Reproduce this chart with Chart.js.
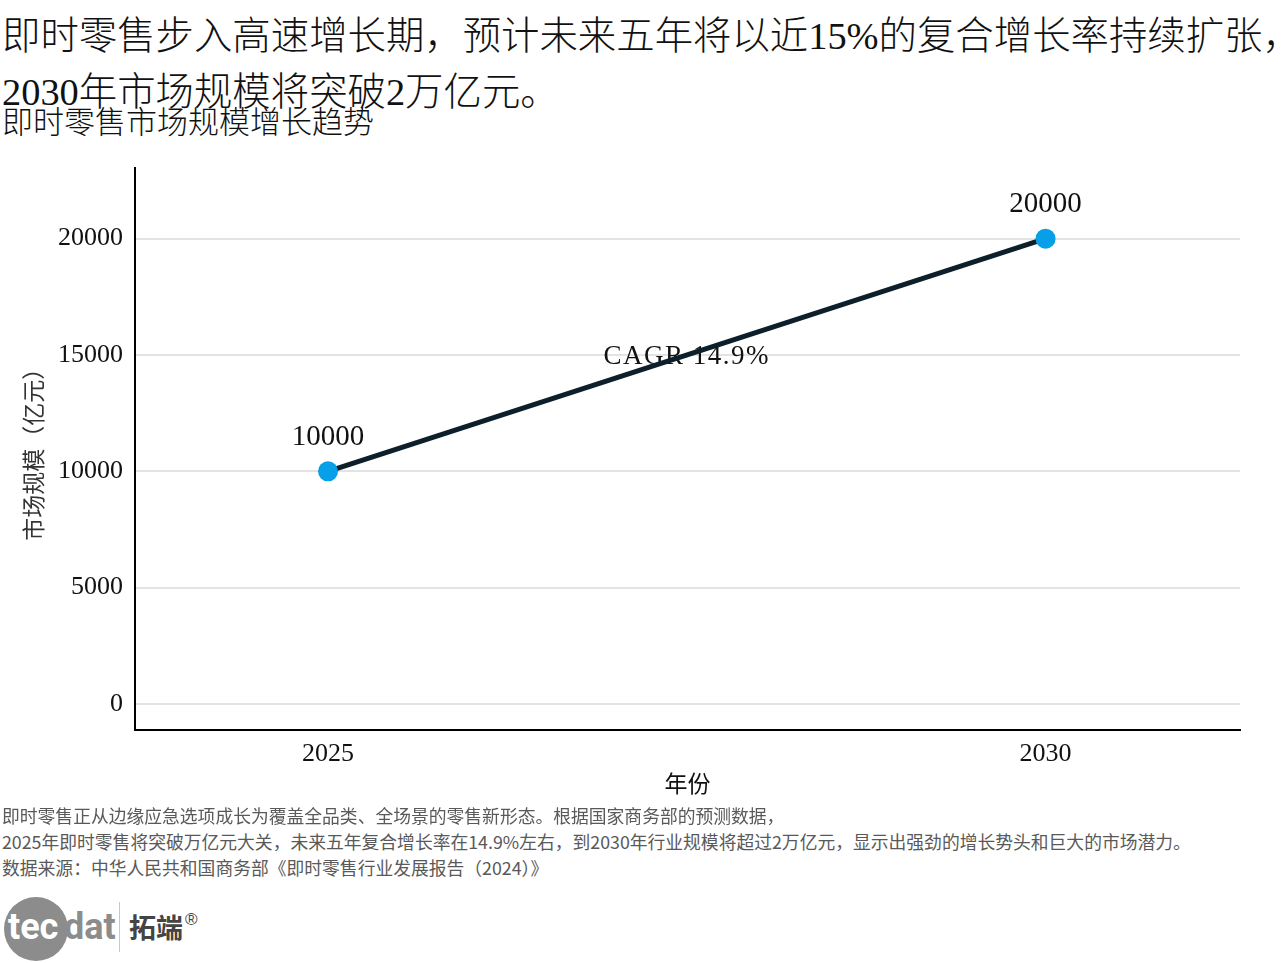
<!DOCTYPE html>
<html>
<head>
<meta charset="utf-8">
<script src="https://cdn.jsdelivr.net/npm/chart.js@4"></script>
<style>
  body { margin:0; width:1284px; height:963px; background:#fff; position:relative; overflow:hidden;
         font-family:'Liberation Serif','Noto Sans CJK SC',serif; color:#111; }
  .abs { position:absolute; white-space:nowrap; }
  .h1 { left:2px; font-size:38.4px; line-height:56px; font-weight:300; }
  .sub { left:2px; top:104px; font-size:31px; line-height:38px; font-weight:300; }
  .note { left:2px; font-size:17.8px; line-height:26px; color:#595959; font-family:'Noto Sans CJK SC',sans-serif; }
  #wrap { position:absolute; left:0; top:140px; width:1284px; height:670px; }
</style>
</head>
<body>
<div class="abs h1" style="top:8px;">即时零售步入高速增长期，预计未来五年将以近15%的复合增长率持续扩张，</div>
<div class="abs h1" style="top:64px;">2030年市场规模将突破2万亿元。</div>
<div class="abs sub">即时零售市场规模增长趋势</div>

<div id="wrap"><canvas id="trendChart"></canvas></div>

<div class="abs note" style="top:802px;">即时零售正从边缘应急选项成长为覆盖全品类、全场景的零售新形态。根据国家商务部的预测数据，</div>
<div class="abs note" style="top:828px;">2025年即时零售将突破万亿元大关，未来五年复合增长率在14.9%左右，到2030年行业规模将超过2万亿元，显示出强劲的增长势头和巨大的市场潜力。</div>
<div class="abs note" style="top:854px;">数据来源：中华人民共和国商务部《即时零售行业发展报告（2024）》</div>

<!-- logo -->
<div class="abs" style="left:4px; top:897px; width:64px; height:64px; border-radius:50%; background:#8c8c8c;"></div>
<div class="abs" style="left:8px; top:904px; font-family:'Liberation Sans Narrow','Roboto',sans-serif; font-size:36px; line-height:46px; color:#fff; font-weight:bold;">tec</div>
<div class="abs" style="left:64px; top:904px; font-family:'Liberation Sans Narrow','Roboto',sans-serif; font-size:36px; line-height:46px; color:#8c8c8c; font-weight:bold;">dat</div>
<div class="abs" style="left:119px; top:902px; width:1px; height:50px; background:#c8c8c8;"></div>
<div class="abs" style="left:129px; top:908px; font-family:'Noto Sans CJK SC',sans-serif; font-size:27px; line-height:38px; color:#444; font-weight:bold;">拓端</div>
<div class="abs" style="left:185px; top:910px; font-family:'Liberation Sans',sans-serif; font-size:17px; line-height:20px; color:#444;">®</div>

<script>
const years = [2025, 2030];
const marketSize = [10000, 20000];
const yTicks = [0, 5000, 10000, 15000, 20000];
const xTicks = [2025, 2030];
const cagrText = 'CAGR 14.9%';
const cagrPos = { x: 2027.5, y: 15000 };

const serif = "'Liberation Serif','Noto Sans CJK SC',serif";

const labelPlugin = {
  id: 'labelPlugin',
  beforeDatasetsDraw(chart) {
    const { ctx, scales } = chart;
    ctx.save();
    ctx.font = "27px " + serif;
    ctx.letterSpacing = '1.5px';
    ctx.fillStyle = '#111';
    ctx.textAlign = 'center';
    ctx.textBaseline = 'middle';
    ctx.fillText(cagrText, scales.x.getPixelForValue(cagrPos.x), scales.y.getPixelForValue(cagrPos.y) + 2);
    ctx.restore();
  },
  afterDatasetsDraw(chart) {
    const { ctx, scales } = chart;
    ctx.save();
    ctx.font = "29px " + serif;
    ctx.fillStyle = '#111';
    ctx.textAlign = 'center';
    ctx.textBaseline = 'middle';
    years.forEach((yr, i) => {
      ctx.fillText(String(marketSize[i]), scales.x.getPixelForValue(yr), scales.y.getPixelForValue(marketSize[i]) - 34);
    });
    ctx.restore();
  }
};

new Chart(document.getElementById('trendChart'), {
  type: 'line',
  data: {
    datasets: [{
      label: '市场规模',
      data: years.map((yr, i) => ({ x: yr, y: marketSize[i] })),
      borderColor: '#0c1f2b',
      borderWidth: 5,
      pointRadius: 10,
      pointHoverRadius: 10,
      pointBackgroundColor: '#069fe8',
      pointBorderWidth: 0,
      fill: false,
      tension: 0
    }]
  },
  options: {
    responsive: true,
    maintainAspectRatio: false,
    animation: false,
    layout: { padding: { top: 8, right: 44, left: 0, bottom: 0 } },
    plugins: { legend: { display: false }, tooltip: { enabled: false } },
    scales: {
      x: {
        type: 'linear',
        min: 2023.655,
        max: 2031.355,
        afterBuildTicks: s => { s.ticks = xTicks.map(v => ({ value: v })); },
        afterFit: s => { s.height = 80; },
        grid: { display: false, drawTicks: false },
        border: { display: true, color: '#000', width: 2 },
        ticks: { padding: 9, color: '#111', font: { family: serif, size: 26 }, callback: v => String(v) },
        title: { display: true, text: '年份', color: '#111', font: { family: serif, size: 23 }, padding: { top: 0, bottom: 10 } }
      },
      y: {
        min: -1118,
        max: 23054,
        afterBuildTicks: s => { s.ticks = yTicks.map(v => ({ value: v })); },
        afterFit: s => { s.width = 135; },
        grid: { color: '#e3e3e3', lineWidth: 2, drawTicks: false },
        border: { display: true, color: '#000', width: 2 },
        ticks: { padding: 12, color: '#111', font: { family: serif, size: 26 }, callback: v => String(v) },
        title: { display: true, text: '市场规模（亿元）', color: '#333', font: { family: serif, size: 23 }, padding: { top: 22, bottom: 0 } }
      }
    }
  },
  plugins: [labelPlugin]
});
</script>
</body>
</html>
